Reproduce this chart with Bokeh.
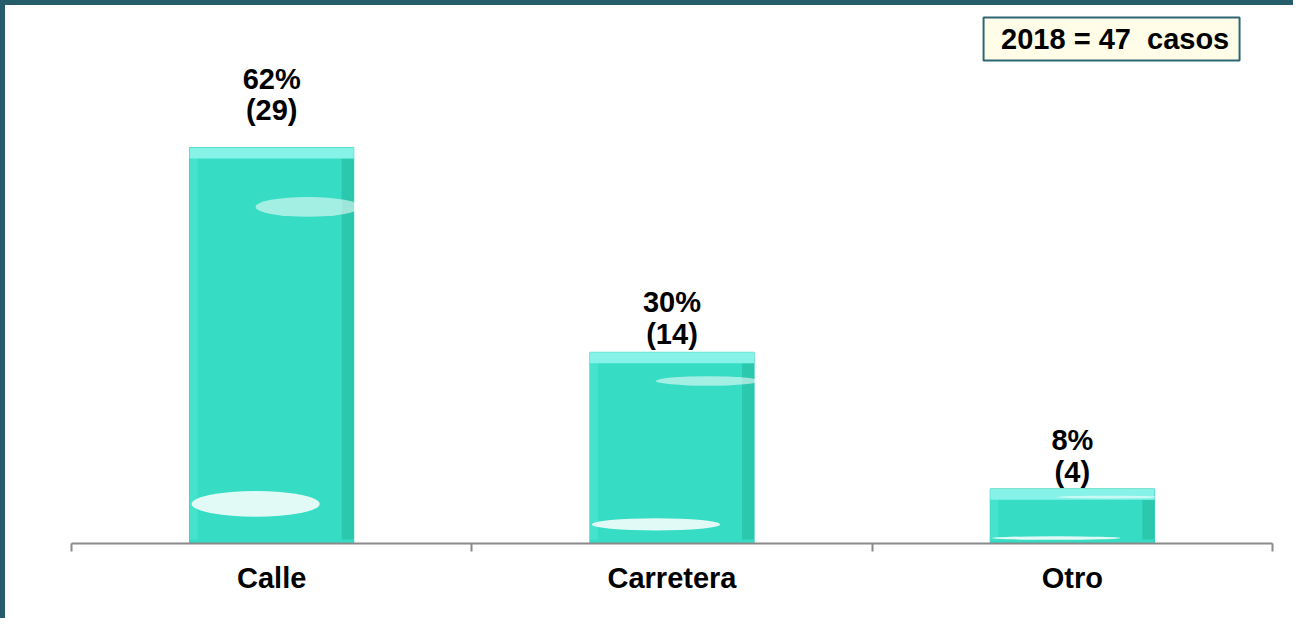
import numpy as np
from bokeh.plotting import figure
from bokeh.models import ColumnDataSource, FixedTicker, Range1d
from bokeh.core.properties import value
from bokeh.embed import file_html
from bokeh.resources import INLINE

# ---- data ----
categories = ["Calle", "Carretera", "Otro"]
counts = [29, 14, 4]
percents = [62, 30, 8]
year = 2018

# ---- style constants ----
FONT = "Liberation Sans"
BORDER = "#265d6b"
lift_pct = [68, 50, 49]      # px above bar top (percentage line)
lift_cnt = [37, 18, 17]      # px above bar top (count line)

idx = np.arange(len(categories)) + 0.5
cnt = np.array(counts, dtype=float)

src = ColumnDataSource(dict(
    x=idx, top=cnt, cat=categories,
    pct_txt=[f"{p}%" for p in percents],
    cnt_txt=[f"({c})" for c in counts],
    off_p=[-v for v in lift_pct], off_c=[-v for v in lift_cnt],
    bev=cnt - 0.8,
    xr=idx + 0.19, xl=idx - 0.195,
    gy=cnt * 0.1, gh=cnt * 0.065,
    hy=cnt * 0.85, hh=cnt * 0.05,
    gx=idx - 0.04, hx=idx + 0.09,
))

W, H = 1293, 618
p = figure(width=W, height=H, output_backend="svg", toolbar_location=None,
           x_range=Range1d(0, len(categories)), y_range=Range1d(0, 39.03),
           y_axis_location=None, min_border_left=66, min_border_right=26,
           min_border_top=5, min_border_bottom=80)
p.styles = {"border-top": f"5px solid {BORDER}", "border-left": f"5px solid {BORDER}"}
p.outline_line_color = None
p.xgrid.visible = False
p.ygrid.visible = False
p.background_fill_color = "white"
p.border_fill_color = "white"

# bars
p.vbar(x="x", top="top", bottom=0, width=0.41, source=src,
       fill_color="#36dcc4", line_color="#2fcfb6", line_width=1)
# side shading
p.vbar(x="xr", top="bev", bottom=0.3, width=0.03, source=src,
       fill_color="#2bc8ae", line_color=None)
p.vbar(x="xl", top="bev", bottom=0.3, width=0.02, source=src,
       fill_color="#45e3cc", line_color=None)
# top bevel
p.vbar(x="x", top="top", bottom="bev", width=0.41, source=src,
       fill_color="#86f2e8", line_color=None)
# gloss
p.ellipse(x="gx", y="gy", width=0.32, height="gh", source=src,
          fill_color="white", fill_alpha=0.85, line_color=None)
p.ellipse(x="hx", y="hy", width=0.26, height="hh", source=src,
          fill_color="white", fill_alpha=0.55, line_color=None)

# labels
p.text(x="x", y="top", text="pct_txt", y_offset="off_p", source=src,
       text_align="center", text_baseline="middle",
       text_font=value(FONT), text_font_style="bold", text_font_size="29px",
       text_color="black")
p.text(x="x", y="top", text="cnt_txt", y_offset="off_c", source=src,
       text_align="center", text_baseline="middle",
       text_font=value(FONT), text_font_style="bold", text_font_size="29px",
       text_color="black")

# info box
total = sum(counts)
p.rect(x=[2.598], y=[36.95], width=256, height=43, width_units="screen",
       height_units="screen", fill_color="#fffde7", line_color="#2f6675",
       line_width=2)
p.text(x=[2.607], y=[36.95], text=[f"{year} = {total}\u00a0 casos"],
       text_align="center", text_baseline="middle",
       text_font=value(FONT), text_font_style="bold", text_font_size="29px",
       text_color="black")

# axis
ax = p.xaxis[0]
ax.ticker = FixedTicker(ticks=list(idx), minor_ticks=list(range(len(categories) + 1)))
ax.major_label_overrides = {float(x): c for x, c in zip(idx, categories)}
ax.axis_line_color = "#8a8a8a"
ax.axis_line_width = 2
ax.major_tick_line_color = None
ax.major_tick_in = 0
ax.major_tick_out = 0
ax.minor_tick_line_color = "#8a8a8a"
ax.minor_tick_line_width = 2
ax.minor_tick_in = 0
ax.minor_tick_out = 8
ax.major_label_standoff = 10
ax.major_label_text_font = FONT
ax.major_label_text_font_style = "bold"
ax.major_label_text_font_size = "29px"
ax.major_label_text_color = "black"

open("out.html", "w").write(file_html(p, INLINE))
